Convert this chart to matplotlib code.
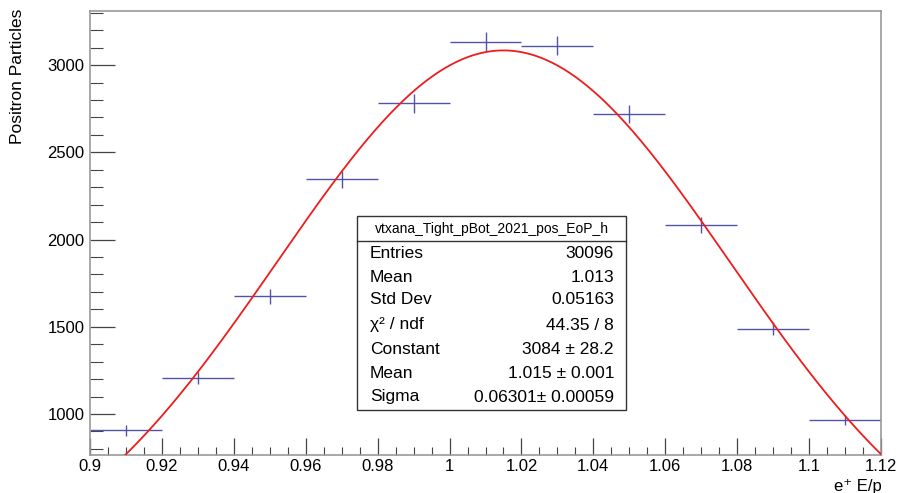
import numpy as np
import matplotlib
matplotlib.use("Agg")
import matplotlib.pyplot as plt
from matplotlib.ticker import MultipleLocator

plt.rcParams['font.family'] = ['Liberation Sans', 'DejaVu Sans']

# Data
bin_centers = [0.91, 0.93, 0.95, 0.97, 0.99, 1.01, 1.03, 1.05, 1.07, 1.09, 1.11]
counts = [906, 1205, 1674, 2346, 2781, 3134, 3111, 2722, 2086, 1489, 966]
errors = [30, 35, 41, 48, 53, 56, 56, 52, 46, 39, 31]
bin_half_width = 0.01

fit_constant = 3084
fit_mean = 1.015
fit_sigma = 0.06301

stats_title = "vtxana_Tight_pBot_2021_pos_EoP_h"
stats_labels = ["Entries", "Mean", "Std Dev", "χ² / ndf", "Constant", "Mean", "Sigma"]
stats_values = ["30096", "1.013", "0.05163", "44.35 / 8", "3084 ± 28.2",
                "1.015 ± 0.001", "0.06301± 0.00059"]

W, H = 900, 493
fig = plt.figure(figsize=(9, 4.93), dpi=100)
ax = fig.add_axes([90 / W, 1 - 455 / H, (881 - 90) / W, (455 - 11) / H])

ax.errorbar(bin_centers, counts, xerr=bin_half_width, yerr=errors, fmt='none',
            ecolor='#5252a6', elinewidth=1.0, capsize=0, zorder=2)

xf = np.linspace(0.9, 1.12, 400)
yf = fit_constant * np.exp(-0.5 * ((xf - fit_mean) / fit_sigma) ** 2)
ax.plot(xf, yf, color='#ee1c1c', lw=1.3, zorder=3)

ax.set_xlim(0.9, 1.12)
ax.set_ylim(765, 3310)

ax.xaxis.set_minor_locator(MultipleLocator(0.005))
ax.yaxis.set_major_locator(MultipleLocator(500))
ax.yaxis.set_minor_locator(MultipleLocator(100))
ax.set_xticks(np.arange(0.9, 1.1201, 0.02))
ax.set_xticklabels(["0.9", "0.92", "0.94", "0.96", "0.98", "1", "1.02", "1.04",
                    "1.06", "1.08", "1.1", "1.12"])

ax.tick_params(axis='both', which='both', direction='in', top=False, right=False,
               labelsize=12, color='#444444')
ax.tick_params(axis='y', which='major', length=18, width=0.9, pad=4)
ax.tick_params(axis='y', which='minor', length=9, width=0.8)
ax.tick_params(axis='x', which='major', length=12, width=0.9, pad=3)
ax.tick_params(axis='x', which='minor', length=6, width=0.8)

for s in ax.spines.values():
    s.set_color('#999999')
    s.set_linewidth(1.2)

fig.text(18 / W, 1 - 9 / H, "Positron Particles", rotation=90, ha='center', va='top',
         fontsize=12.5)
fig.text(882 / W, 1 - 486 / H, "e⁺ E/p", ha='right', va='center', fontsize=12)

# Stats box
bx0, bx1, by0, by1 = 357, 626, 216, 410
sep = 241
lw = 1.0
def fx(px): return px / W
def fy(py): return 1 - py / H
rect = plt.Rectangle((fx(bx0), fy(by1)), fx(bx1) - fx(bx0), fy(by0) - fy(by1),
                     transform=fig.transFigure, fill=True, facecolor='white',
                     edgecolor='#333333', lw=lw, zorder=10)
fig.add_artist(rect)
fig.add_artist(plt.Line2D([fx(bx0), fx(bx1)], [fy(sep), fy(sep)], transform=fig.transFigure,
                          color='#333333', lw=lw, zorder=11))
fig.text(fx((bx0 + bx1) / 2), fy(228.5), stats_title, ha='center', va='center',
         fontsize=10, zorder=12)
row_y = [254, 277, 300, 325, 350, 373, 397]
for lab, val, yy in zip(stats_labels, stats_values, row_y):
    fig.text(fx(bx0 + 13), fy(yy), lab, ha='left', va='center', fontsize=12.5, zorder=12)
    fig.text(fx(bx1 - 12), fy(yy), val, ha='right', va='center', fontsize=12.5, zorder=12)

fig.savefig("out.png", dpi=100)
